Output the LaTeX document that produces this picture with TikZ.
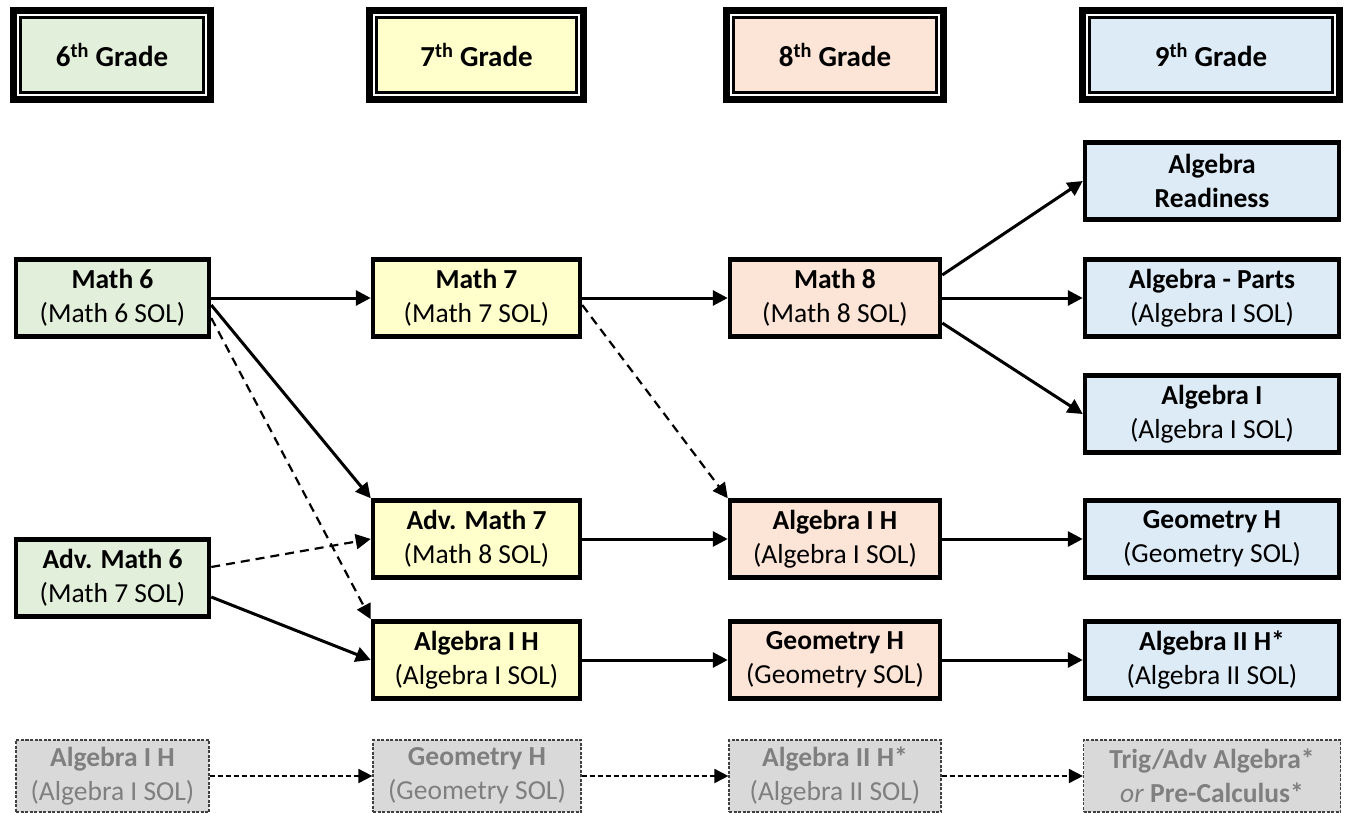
\documentclass[tikz,border=0pt]{standalone}
\usepackage{fontspec}
\setmainfont{Carlito}
\usetikzlibrary{arrows.meta}
\definecolor{cgreen}{HTML}{E2EFDA}
\definecolor{cyellow}{HTML}{FFFFCC}
\definecolor{cpeach}{HTML}{FCE4D6}
\definecolor{cblue}{HTML}{DDEBF7}
\definecolor{cgray}{HTML}{D9D9D9}
\definecolor{gtext}{HTML}{7F7F7F}
\definecolor{gline}{HTML}{404040}
\begin{document}
\begin{tikzpicture}[x=1pt,y=-1pt,
  box/.style={draw=black, line width=4.5pt, rectangle, align=center, inner sep=0pt,
    font=\fontsize{27.5}{34}\selectfont, minimum height=77pt},
  hdr/.style={draw=black, line width=2.6pt, rectangle, align=center, inner sep=0pt,
    font=\fontsize{29}{34}\selectfont\bfseries, minimum height=75pt},
  hframe/.style={draw=black, line width=7pt},
  ghost/.style={draw=gline, line width=1.2pt, dash pattern=on 3pt off 1.5pt, fill=cgray,
    text=gtext, rectangle, align=center, inner sep=0pt,
    font=\fontsize{27.5}{34}\selectfont, minimum height=72pt},
  c1/.style={minimum width=193pt}, c2/.style={minimum width=207pt},
  c3/.style={minimum width=210pt}, c4/.style={minimum width=254pt},
  arr/.style={line width=3pt, -{Triangle[length=15pt,width=15pt]}},
  darr/.style={line width=2.2pt, dash pattern=on 9pt off 6pt, -{Triangle[length=15pt,width=15pt]}},
  garr/.style={line width=1.8pt, dash pattern=on 5pt off 3pt, -{Triangle[length=14pt,width=14pt]}}
]
\useasboundingbox (0,0) rectangle (1348,813);

% headers
\node[hdr, fill=cgreen, minimum width=183pt] (h6) at (112,55) {6\textsuperscript{th} Grade};
\node[hdr, fill=cyellow, minimum width=200pt] (h7) at (476.5,55) {7\textsuperscript{th} Grade};
\node[hdr, fill=cpeach, minimum width=203pt] (h8) at (835,55) {8\textsuperscript{th} Grade};
\node[hdr, fill=cblue, minimum width=243pt] (h9) at (1211,55) {9\textsuperscript{th} Grade};
\foreach \h in {h6,h7,h8,h9}{
  \draw[hframe] ([shift={(-6pt,6pt)}]\h.north west) rectangle ([shift={(6pt,-6pt)}]\h.south east);
}

% 6th grade
\node[box, c1, fill=cgreen] (m6) at (112.5,298) {\textbf{Math 6}\\(Math 6 SOL)};
\node[box, c1, fill=cgreen] (am6) at (112.5,578) {\textbf{Adv. Math 6}\\(Math 7 SOL)};

% 7th grade
\node[box, c2, fill=cyellow] (m7) at (476.5,298) {\textbf{Math 7}\\(Math 7 SOL)};
\node[box, c2, fill=cyellow] (am7) at (476.5,539) {\textbf{Adv. Math 7}\\(Math 8 SOL)};
\node[box, c2, fill=cyellow] (a7) at (476.5,660) {\textbf{Algebra I H}\\(Algebra I SOL)};

% 8th grade
\node[box, c3, fill=cpeach] (m8) at (835,298) {\textbf{Math 8}\\(Math 8 SOL)};
\node[box, c3, fill=cpeach] (a8) at (835,539) {\textbf{Algebra I H}\\(Algebra I SOL)};
\node[box, c3, fill=cpeach] (g8) at (835,660) {\textbf{Geometry H}\\(Geometry SOL)};

% 9th grade
\node[box, c4, fill=cblue] (ar) at (1212,181) {\textbf{Algebra}\\\textbf{Readiness}};
\node[box, c4, fill=cblue] (ap) at (1212,298) {\textbf{Algebra - Parts}\\(Algebra I SOL)};
\node[box, c4, fill=cblue] (ai) at (1212,414) {\textbf{Algebra I}\\(Algebra I SOL)};
\node[box, c4, fill=cblue] (g9) at (1212,539) {\textbf{Geometry H}\\(Geometry SOL)};
\node[box, c4, fill=cblue] (a9) at (1212,660) {\textbf{Algebra II H*}\\(Algebra II SOL)};

% ghost row
\node[ghost, minimum width=193pt] (x1) at (112.5,776) {\textbf{Algebra I H}\\(Algebra I SOL)};
\node[ghost, minimum width=208pt] (x2) at (477,776) {\textbf{Geometry H}\\(Geometry SOL)};
\node[ghost, minimum width=212pt] (x3) at (835,776) {\textbf{Algebra II H*}\\(Algebra II SOL)};
\node[ghost, minimum width=257pt] (x4) at (1212,776) {\textbf{Trig/Adv Algebra*}\\\textit{or} \textbf{Pre-Calculus*}};

% connectors
\draw[arr] (m6.east) -- (m7.west);
\draw[arr] ([yshift=-7pt]m6.east) -- (am7.north west);
\draw[darr] ([yshift=-20pt]m6.east) -- (a7.north west);
\draw[darr] ([yshift=11pt]am6.east) -- (am7.west);
\draw[arr] ([yshift=-19pt]am6.east) -- (a7.west);

\draw[arr] (m7.east) -- (m8.west);
\draw[darr] ([yshift=-7pt]m7.east) -- (a8.north west);
\draw[arr] (am7.east) -- (a8.west);
\draw[arr] (a7.east) -- (g8.west);

\draw[arr] ([yshift=23pt]m8.east) -- (ar.west);
\draw[arr] (m8.east) -- (ap.west);
\draw[arr] ([yshift=-25pt]m8.east) -- (ai.west);
\draw[arr] (a8.east) -- (g9.west);
\draw[arr] (g8.east) -- (a9.west);

\draw[garr] (x1.east) -- (x2.west);
\draw[garr] (x2.east) -- (x3.west);
\draw[garr] (x3.east) -- (x4.west);
\end{tikzpicture}
\end{document}
